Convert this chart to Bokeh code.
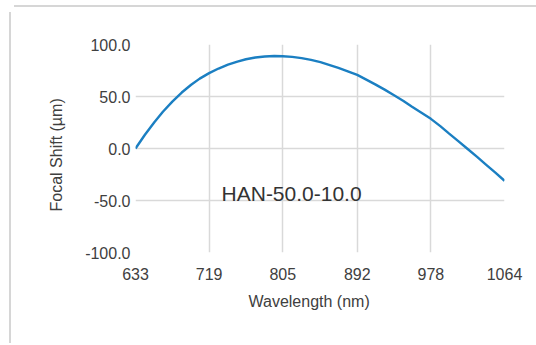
from bokeh.plotting import figure
from bokeh.layouts import column
from bokeh.models import Range1d, FixedTicker, NumeralTickFormatter, Label, Title, Div
from bokeh.embed import file_html
from bokeh.resources import INLINE

# Data
wavelength_nm = [633, 644, 655, 665, 676, 687, 698, 708, 719, 730, 741, 752, 762, 773,
                 784, 795, 805, 816, 827, 838, 849, 859, 870, 881, 892, 902, 913, 924,
                 935, 946, 956, 967, 978, 989, 999, 1010, 1021, 1032, 1042, 1053, 1064]
focal_shift_um = [0, 13.2, 25.3, 35.3, 45.1, 53.8, 61.3, 67.2, 72.5, 76.9, 80.6, 83.6, 85.8, 87.5,
                  88.5, 89.0, 88.7, 88.1, 86.9, 85.2, 83.0, 80.4, 77.5, 74.2, 70.8, 66.5, 61.7, 56.6,
                  51.2, 45.7, 40.2, 34.4, 28.5, 21.5, 14.6, 7.1, -0.5, -8.1, -15.2, -23.0, -31.0]
x_ticks = [633, 719, 805, 892, 978, 1064]
y_ticks = [-100, -50, 0, 50, 100]
lens_name = "HAN-50.0-10.0"
x_title = "Wavelength (nm)"
y_title = "Focal Shift (µm)"

FONT = "Liberation Sans"
TXT = "#404040"
GRID = "#d9d9d9"
FRAME = "#d6d6d6"

p = figure(width=520, height=331, output_backend="svg", toolbar_location=None,
           x_range=Range1d(x_ticks[0], x_ticks[-1]), y_range=Range1d(y_ticks[0], y_ticks[-1]),
           min_border_left=124, min_border_right=27, min_border_top=32, min_border_bottom=91,
           styles={"border-left": "2px solid " + FRAME})
p.outline_line_color = None
p.background_fill_color = "white"
p.border_fill_color = "white"

p.line(wavelength_nm, focal_shift_um, line_color="#1b7fc2", line_width=2.4)

for ax in (p.xaxis[0], p.yaxis[0]):
    ax.axis_line_color = None
    ax.major_tick_line_color = None
    ax.minor_tick_line_color = None
    ax.major_tick_in = 0
    ax.major_tick_out = 0
    ax.minor_tick_in = 0
    ax.minor_tick_out = 0
    ax.major_label_text_font = FONT
    ax.major_label_text_font_size = "16px"
    ax.major_label_text_color = TXT

p.xaxis[0].ticker = FixedTicker(ticks=x_ticks)
p.xaxis[0].major_label_standoff = 15
p.yaxis[0].ticker = FixedTicker(ticks=y_ticks)
p.yaxis[0].formatter = NumeralTickFormatter(format="0.0")
p.yaxis[0].major_label_standoff = 5

p.xgrid[0].ticker = FixedTicker(ticks=x_ticks[1:-1])
p.ygrid[0].ticker = FixedTicker(ticks=y_ticks[1:-1])
p.xgrid[0].grid_line_color = GRID
p.ygrid[0].grid_line_color = GRID
p.xgrid[0].grid_line_width = 1.5
p.ygrid[0].grid_line_width = 1.5

p.add_layout(Title(text=x_title, align="left", offset=113, standoff=17,
                   text_font=FONT, text_font_size="16px", text_color=TXT,
                   text_font_style="normal"), "below")
p.add_layout(Title(text=y_title, align="left", offset=41, standoff=35,
                   text_font=FONT, text_font_size="16px", text_color=TXT,
                   text_font_style="normal"), "left")
p.add_layout(Label(x=733.5, y=-43.3, text=lens_name, text_font=FONT,
                   text_font_size="21px", text_color="#333333", text_align="left",
                   text_baseline="alphabetic"))

top_rule = Div(text="", width=527, height=2, styles={"background-color": FRAME})
page = column(top_rule, p, spacing=0, styles={"margin-left": "9px", "margin-top": "0px"})

open("out.html", "w").write(file_html(page, INLINE))
